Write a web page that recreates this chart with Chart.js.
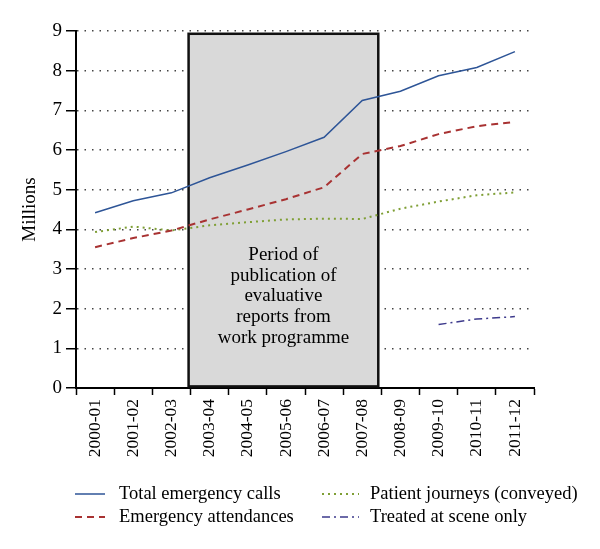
<!DOCTYPE html>
<html>
<head>
<meta charset="utf-8">
<script src="https://cdn.jsdelivr.net/npm/chart.js@4/dist/chart.umd.min.js"></script>
<style>
  html, body { margin: 0; padding: 0; background: #fff; }
  #wrap { width: 600px; height: 549px; position: relative; }
</style>
</head>
<body>
<div id="wrap"><canvas id="myChart"></canvas></div>
<script>
const years = ["2000-01", "2001-02", "2002-03", "2003-04", "2004-05", "2005-06",
  "2006-07", "2007-08", "2008-09", "2009-10", "2010-11", "2011-12"];
const totalCalls = [4.42, 4.72, 4.92, 5.3, 5.62, 5.96, 6.32, 7.25, 7.48, 7.87, 8.08, 8.48];
const attendances = [3.55, 3.78, 3.97, 4.25, 4.5, 4.76, 5.06, 5.9, 6.1, 6.4, 6.6, 6.71];
const journeys = [3.93, 4.07, 3.97, 4.1, 4.18, 4.25, 4.27, 4.26, 4.52, 4.7, 4.86, 4.93];
const treated = [null, null, null, null, null, null, null, null, null, 1.6, 1.74, 1.8];
const yTicks = [0, 1, 2, 3, 4, 5, 6, 7, 8, 9];
const periodText = ["Period of", "publication of", "evaluative", "reports from", "work programme"];

const serif = "'Liberation Serif', 'DejaVu Serif', serif";
Chart.defaults.font.family = serif;
Chart.defaults.color = "#000";

// grey box marking the publication period, drawn under the lines
const periodBox = {
  id: "periodBox",
  beforeDatasetsDraw(chart) {
    const { ctx, scales: { x, y } } = chart;
    const l = x.getPixelForValue(2.45), r = x.getPixelForValue(7.42);
    const t = y.getPixelForValue(8.93), b = y.getPixelForValue(0.04);
    ctx.save();
    ctx.fillStyle = "#d9d9d9";
    ctx.fillRect(l, t, r - l, b - t);
    ctx.strokeStyle = "#111";
    ctx.lineWidth = 2.5;
    ctx.strokeRect(l, t, r - l, b - t);
    ctx.font = "19px " + serif;
    ctx.fillStyle = "#000";
    ctx.textAlign = "center";
    ctx.textBaseline = "middle";
    const cx = (l + r) / 2;
    const cy = y.getPixelForValue(2.31);
    const lh = 20.7;
    periodText.forEach((s, i) => {
      ctx.fillText(s, cx, cy + (i - (periodText.length - 1) / 2) * lh);
    });
    ctx.restore();
  },
};

// two-column legend under the axis labels
const twoColLegend = {
  id: "twoColLegend",
  afterDraw(chart) {
    const { ctx } = chart;
    const cols = [[75, 105, 119], [322, 359, 370]];
    const rows = [494, 517];
    ctx.save();
    ctx.font = "18.5px " + serif;
    ctx.textBaseline = "middle";
    ctx.fillStyle = "#000";
    chart.data.datasets.forEach((ds, i) => {
      const c = cols[Math.floor(i / 2)], yy = rows[i % 2];
      ctx.beginPath();
      ctx.strokeStyle = ds.borderColor;
      ctx.lineWidth = ds.borderWidth;
      ctx.setLineDash(ds.borderDash || []);
      ctx.moveTo(c[0], yy);
      ctx.lineTo(c[1], yy);
      ctx.stroke();
      ctx.fillText(ds.label, c[2], yy);
    });
    ctx.restore();
  },
};

const ctx = document.getElementById("myChart");

const myChart = new Chart(ctx, {
  type: "line",
  data: {
    labels: years,
    datasets: [
      {
        label: "Total emergency calls",
        data: totalCalls,
        borderColor: "#2e5597",
        borderWidth: 1.5,
      },
      {
        label: "Emergency attendances",
        data: attendances,
        borderColor: "#a83232",
        borderWidth: 2,
        borderDash: [7, 5],
      },
      {
        label: "Patient journeys (conveyed)",
        data: journeys,
        borderColor: "#7f9f35",
        borderWidth: 2,
        borderDash: [2, 4],
      },
      {
        label: "Treated at scene only",
        data: treated,
        borderColor: "#3d3a8c",
        borderWidth: 1.5,
        borderDash: [8, 4, 2, 4],
      },
    ],
  },
  options: {
    responsive: true,
    maintainAspectRatio: false,
    animation: false,
    elements: {
      point: { radius: 0 },
      line: { tension: 0, fill: false },
    },
    layout: { padding: { top: 31, right: 66, bottom: 69, left: 0 } },
    plugins: {
      legend: { display: false },
      tooltip: { enabled: false },
    },
    scales: {
      x: {
        offset: true,
        grid: {
          offset: true,
          color: "rgba(0,0,0,0)",
          tickColor: "#000",
          tickLength: 7,
          tickWidth: 1.5,
        },
        border: { color: "#000", width: 2 },
        ticks: {
          minRotation: 90,
          maxRotation: 90,
          padding: 4,
          font: { size: 17.5 },
          autoSkip: false,
        },
        afterFit(scale) {
          scale.height = 92;
        },
      },
      y: {
        min: 0,
        max: 9,
        afterBuildTicks(scale) {
          scale.ticks = yTicks.map((v) => ({ value: v }));
        },
        grid: {
          color: "#444",
          lineWidth: 1.5,
          tickColor: "#000",
          tickLength: 10,
          tickWidth: 1.5,
        },
        border: { color: "#000", width: 2, dash: [1.5, 6] },
        ticks: { padding: 4, font: { size: 19 } },
        title: {
          display: true,
          text: "Millions",
          font: { size: 19 },
          padding: { top: 19, bottom: 0 },
        },
        afterFit(scale) {
          scale.width = 76;
        },
      },
    },
  },
  plugins: [periodBox, twoColLegend],
});
</script>
</body>
</html>
